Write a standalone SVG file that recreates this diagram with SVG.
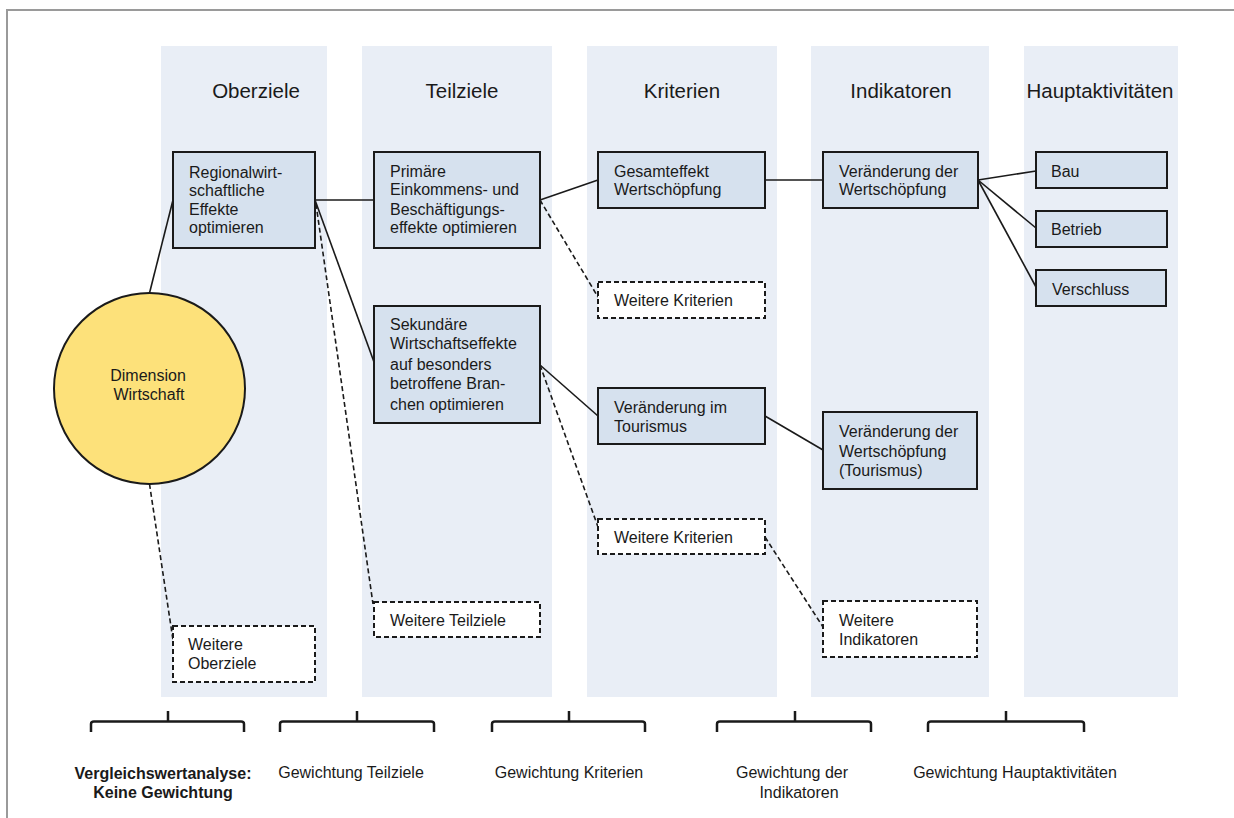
<svg xmlns="http://www.w3.org/2000/svg" width="1234" height="818" viewBox="0 0 1234 818">
<style>
text{font-family:"Liberation Sans",Arial,sans-serif;fill:#1a1a1a;}
.hdr{font-size:20.5px;text-anchor:middle;}
.t{font-size:16px;}
.lbl{font-size:16px;text-anchor:middle;}
.b{font-weight:bold;}
.col{fill:#e9eef6;}
.box{fill:#d6e1ee;stroke:#1a1a1a;stroke-width:2;}
.dbox{fill:#ffffff;stroke:#1a1a1a;stroke-width:2;stroke-dasharray:5,3;}
.ln{stroke:#1a1a1a;stroke-width:1.6;fill:none;}
.dl{stroke:#1a1a1a;stroke-width:1.6;fill:none;stroke-dasharray:5,3;}
.br{stroke:#1a1a1a;stroke-width:2.5;fill:none;}
</style>
<rect x="0" y="0" width="1234" height="818" fill="#ffffff"/>
<rect x="7" y="10" width="1240" height="820" fill="none" stroke="#9a9a9a" stroke-width="2"/>
<g id="columns">
<rect class="col" x="161" y="46" width="166" height="651"/>
<rect class="col" x="362" y="46" width="190" height="651"/>
<rect class="col" x="587" y="46" width="190" height="651"/>
<rect class="col" x="811" y="46" width="178" height="651"/>
<rect class="col" x="1024" y="46" width="154" height="651"/>
</g>
<g id="headers">
<text class="hdr" x="256" y="98">Oberziele</text>
<text class="hdr" x="462" y="98">Teilziele</text>
<text class="hdr" x="682" y="98">Kriterien</text>
<text class="hdr" x="901" y="98">Indikatoren</text>
<text class="hdr" x="1100" y="98">Hauptaktivitäten</text>
</g>
<g id="connectors">
<line class="ln" x1="149.5" y1="293" x2="173" y2="200"/>
<line class="dl" x1="149.5" y1="484" x2="173" y2="640"/>
<line class="ln" x1="315" y1="200" x2="374" y2="200"/>
<line class="ln" x1="315" y1="200" x2="374" y2="362"/>
<line class="dl" x1="316" y1="204" x2="373" y2="604"/>
<line class="ln" x1="540" y1="200" x2="598" y2="180"/>
<line class="dl" x1="540" y1="200" x2="598" y2="297"/>
<line class="ln" x1="765" y1="180" x2="823" y2="180"/>
<line class="ln" x1="978" y1="180" x2="1036" y2="171"/>
<line class="ln" x1="978" y1="180" x2="1036" y2="228"/>
<line class="ln" x1="978" y1="180" x2="1036" y2="287"/>
<line class="ln" x1="540" y1="365" x2="598" y2="416"/>
<line class="dl" x1="540" y1="365" x2="598" y2="527"/>
<line class="ln" x1="765" y1="416" x2="823" y2="450"/>
<line class="dl" x1="765" y1="537" x2="823" y2="627"/>
</g>
<g id="n-dimension">
<circle cx="149.5" cy="388.5" r="95.5" fill="#fde17a" stroke="#1a1a1a" stroke-width="2"/>
<text class="lbl" x="148" y="381">Dimension</text>
<text class="lbl" x="149" y="400">Wirtschaft</text>
</g>
<g id="n-regional">
<rect class="box" x="173" y="152" width="142" height="96"/>
<text class="t" x="189" y="178">Regionalwirt-</text>
<text class="t" x="189" y="196">schaftliche</text>
<text class="t" x="189" y="215">Effekte</text>
<text class="t" x="189" y="233">optimieren</text>
</g>
<g id="n-weitere-oberziele">
<rect class="dbox" x="173" y="626" width="142" height="56"/>
<text class="t" x="188" y="650">Weitere</text>
<text class="t" x="188" y="669">Oberziele</text>
</g>
<g id="n-primaere">
<rect class="box" x="374" y="152" width="166" height="96"/>
<text class="t" x="390" y="177">Primäre</text>
<text class="t" x="390" y="195">Einkommens- und</text>
<text class="t" x="390" y="215">Beschäftigungs-</text>
<text class="t" x="390" y="233">effekte optimieren</text>
</g>
<g id="n-sekundaere">
<rect class="box" x="374" y="306" width="166" height="117"/>
<text class="t" x="390" y="330">Sekundäre</text>
<text class="t" x="390" y="349">Wirtschaftseffekte</text>
<text class="t" x="390" y="370">auf besonders</text>
<text class="t" x="390" y="389">betroffene Bran-</text>
<text class="t" x="390" y="410">chen optimieren</text>
</g>
<g id="n-weitere-teilziele">
<rect class="dbox" x="374" y="602" width="166" height="35"/>
<text class="t" x="390" y="626">Weitere Teilziele</text>
</g>
<g id="n-gesamteffekt">
<rect class="box" x="598" y="152" width="167" height="56"/>
<text class="t" x="614" y="177">Gesamteffekt</text>
<text class="t" x="614" y="195">Wertschöpfung</text>
</g>
<g id="n-weitere-kriterien-1">
<rect class="dbox" x="598" y="282" width="167" height="36"/>
<text class="t" x="614" y="306">Weitere Kriterien</text>
</g>
<g id="n-tourismus">
<rect class="box" x="598" y="388" width="167" height="56"/>
<text class="t" x="614" y="413">Veränderung im</text>
<text class="t" x="614" y="432">Tourismus</text>
</g>
<g id="n-weitere-kriterien-2">
<rect class="dbox" x="598" y="519" width="167" height="35"/>
<text class="t" x="614" y="543">Weitere Kriterien</text>
</g>
<g id="n-veraenderung-ws">
<rect class="box" x="823" y="152" width="155" height="56"/>
<text class="t" x="839" y="177">Veränderung der</text>
<text class="t" x="839" y="195">Wertschöpfung</text>
</g>
<g id="n-veraenderung-ws-tourismus">
<rect class="box" x="823" y="412" width="154" height="77"/>
<text class="t" x="839" y="437">Veränderung der</text>
<text class="t" x="839" y="457">Wertschöpfung</text>
<text class="t" x="839" y="476">(Tourismus)</text>
</g>
<g id="n-weitere-indikatoren">
<rect class="dbox" x="823" y="601" width="154" height="56"/>
<text class="t" x="839" y="626">Weitere</text>
<text class="t" x="839" y="645">Indikatoren</text>
</g>
<g id="n-bau">
<rect class="box" x="1036" y="152" width="131" height="36"/>
<text class="t" x="1051" y="177">Bau</text>
</g>
<g id="n-betrieb">
<rect class="box" x="1036" y="211" width="131" height="36"/>
<text class="t" x="1051" y="235">Betrieb</text>
</g>
<g id="n-verschluss">
<rect class="box" x="1036" y="270" width="130" height="36"/>
<text class="t" x="1052" y="295">Verschluss</text>
</g>
<g id="braces">
<path class="br" d="M91,732 V724 Q91,721.5 94,721.5 H168 M168,711 V721.5 M168,721.5 H241 Q244,721.5 244,724 V732"/>
<path class="br" d="M280,732 V724 Q280,721.5 283,721.5 H357 M357,711 V721.5 M357,721.5 H431 Q434,721.5 434,724 V732"/>
<path class="br" d="M492,732 V724 Q492,721.5 495,721.5 H569 M569,711 V721.5 M569,721.5 H642 Q645,721.5 645,724 V732"/>
<path class="br" d="M717,732 V724 Q717,721.5 720,721.5 H795 M795,711 V721.5 M795,721.5 H868 Q871,721.5 871,724 V732"/>
<path class="br" d="M928,732 V724 Q928,721.5 931,721.5 H1006 M1006,711 V721.5 M1006,721.5 H1081 Q1084,721.5 1084,724 V732"/>
</g>
<g id="labels">
<text class="lbl b" x="163" y="779">Vergleichswertanalyse:</text>
<text class="lbl b" x="163" y="798">Keine Gewichtung</text>
<text class="lbl" x="351" y="778">Gewichtung Teilziele</text>
<text class="lbl" x="569" y="778">Gewichtung Kriterien</text>
<text class="lbl" x="792" y="778">Gewichtung der</text>
<text class="lbl" x="799" y="798">Indikatoren</text>
<text class="lbl" x="1015" y="778">Gewichtung Hauptaktivitäten</text>
</g>
</svg>
